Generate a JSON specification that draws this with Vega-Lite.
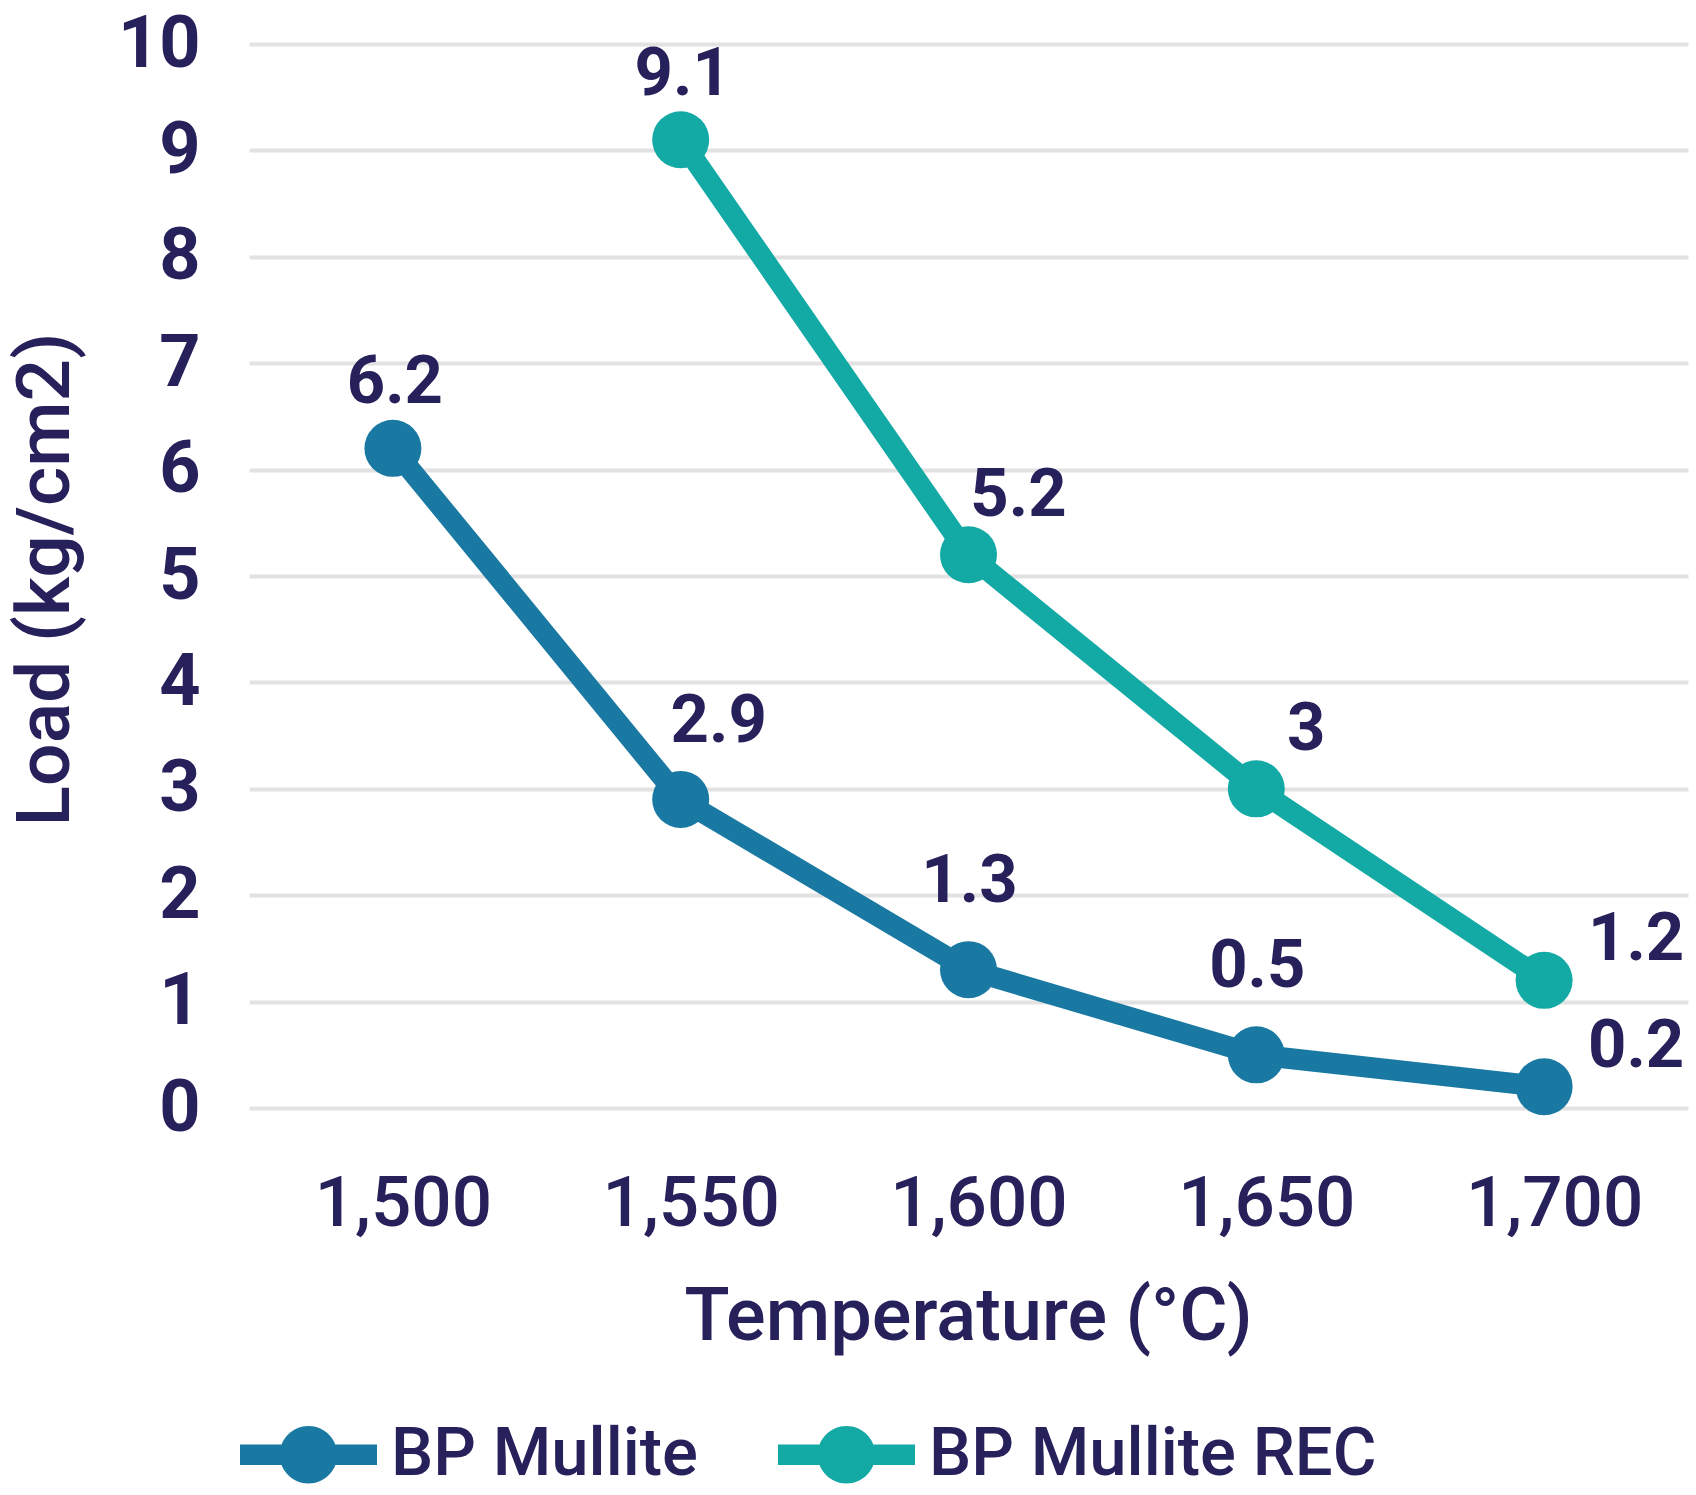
{
  "$schema": "https://vega.github.io/schema/vega-lite/v6.json",
  "width": 1439,
  "height": 1064,
  "autosize": {"type": "none"},
  "padding": {"left": 249, "top": 44, "right": 8, "bottom": 387},
  "background": "white",
  "config": {
    "view": {"stroke": null},
    "font": "Roboto",
    "legend": {"padding": 0}
  },
  "data": {
    "values": [
      {"temp": 1500, "series": "BP Mullite", "load": 6.2},
      {"temp": 1550, "series": "BP Mullite", "load": 2.9},
      {"temp": 1600, "series": "BP Mullite", "load": 1.3},
      {"temp": 1650, "series": "BP Mullite", "load": 0.5},
      {"temp": 1700, "series": "BP Mullite", "load": 0.2},
      {"temp": 1550, "series": "BP Mullite REC", "load": 9.1},
      {"temp": 1600, "series": "BP Mullite REC", "load": 5.2},
      {"temp": 1650, "series": "BP Mullite REC", "load": 3},
      {"temp": 1700, "series": "BP Mullite REC", "load": 1.2}
    ]
  },
  "encoding": {
    "x": {
      "field": "temp",
      "type": "quantitative",
      "scale": {"domain": [1475, 1725], "nice": false, "zero": false},
      "axis": {
        "values": [1500, 1550, 1600, 1650, 1700],
        "format": ",d",
        "grid": false,
        "domain": false,
        "ticks": false,
        "tickSize": 0,
        "labelPadding": 96,
        "labelOffset": 10,
        "labelLimit": 0,
        "labelBaseline": "middle",
        "labelFontSize": 71,
        "labelFontWeight": 500,
        "labelColor": "#27215b",
        "title": "Temperature (°C)",
        "titleFontSize": 74,
        "titleFontWeight": 500,
        "titleColor": "#27215b",
        "titleLimit": 0,
        "titleX": 719,
        "titleY": 209,
        "titleBaseline": "middle",
        "titleAlign": "center"
      }
    },
    "y": {
      "field": "load",
      "type": "quantitative",
      "scale": {"domain": [0, 10], "nice": false},
      "axis": {
        "values": [0, 1, 2, 3, 4, 5, 6, 7, 8, 9, 10],
        "grid": true,
        "gridColor": "#e2e2e2",
        "gridWidth": 4,
        "domain": false,
        "ticks": false,
        "tickSize": 0,
        "labelPadding": 49,
        "labelLimit": 0,
        "labelBaseline": "middle",
        "labelFontSize": 72,
        "labelFontWeight": "bold",
        "labelColor": "#27215b",
        "title": "Load (kg/cm2)",
        "titleFontSize": 75,
        "titleFontWeight": 500,
        "titleColor": "#27215b",
        "titleLimit": 0,
        "titleX": -204,
        "titleY": 535,
        "titleAngle": -90,
        "titleBaseline": "middle",
        "titleAlign": "center"
      }
    },
    "color": {
      "field": "series",
      "type": "nominal",
      "scale": {
        "domain": ["BP Mullite", "BP Mullite REC"],
        "range": ["#1a79a2", "#13a9a5"]
      },
      "legend": {
        "title": null,
        "orient": "none",
        "direction": "horizontal",
        "legendX": -9,
        "legendY": 1342,
        "symbolType": "M-1,-0.15 L1,-0.15 L1,0.15 L-1,0.15 Z M-0.42,0 A0.42,0.42 0 1,1 0.42,0 A0.42,0.42 0 1,1 -0.42,0 Z",
        "symbolSize": 18769,
        "symbolStrokeWidth": 0,
        "labelFontSize": 67,
        "labelFontWeight": 500,
        "labelColor": "#27215b",
        "labelLimit": 0,
        "labelOffset": 14,
        "columnPadding": 80,
        "encode": {
          "symbols": {
            "update": {
              "fill": {"scale": "color", "field": "value"},
              "stroke": {"value": "transparent"},
              "opacity": {"value": 1}
            }
          }
        }
      }
    }
  },
  "layer": [
    {
      "mark": {"type": "line", "strokeWidth": 21, "strokeCap": "round", "strokeJoin": "round"}
    },
    {
      "mark": {"type": "point", "filled": true, "opacity": 1, "size": 3250, "shape": "circle"}
    },
    {
      "transform": [
        {"filter": "(datum.series == 'BP Mullite' && datum.temp == 1500) || (datum.series == 'BP Mullite REC' && datum.temp == 1550)"}
      ],
      "mark": {"type": "text", "dx": 2, "dy": -65, "fontSize": 67, "fontWeight": "bold", "baseline": "middle", "align": "center"},
      "encoding": {"text": {"field": "load", "type": "quantitative"}, "color": {"value": "#27215b"}}
    },
    {
      "transform": [
        {"filter": "datum.series == 'BP Mullite' && (datum.temp == 1600 || datum.temp == 1650)"}
      ],
      "mark": {"type": "text", "dx": 1, "dy": -88, "fontSize": 67, "fontWeight": "bold", "baseline": "middle", "align": "center"},
      "encoding": {"text": {"field": "load", "type": "quantitative"}, "color": {"value": "#27215b"}}
    },
    {
      "transform": [
        {"filter": "datum.series == 'BP Mullite' && datum.temp == 1550"}
      ],
      "mark": {"type": "text", "dx": 38, "dy": -77, "fontSize": 67, "fontWeight": "bold", "baseline": "middle", "align": "center"},
      "encoding": {"text": {"field": "load", "type": "quantitative"}, "color": {"value": "#27215b"}}
    },
    {
      "transform": [
        {"filter": "datum.series == 'BP Mullite REC' && (datum.temp == 1600 || datum.temp == 1650)"}
      ],
      "mark": {"type": "text", "dx": 50, "dy": -59, "fontSize": 67, "fontWeight": "bold", "baseline": "middle", "align": "center"},
      "encoding": {"text": {"field": "load", "type": "quantitative"}, "color": {"value": "#27215b"}}
    },
    {
      "transform": [
        {"filter": "datum.temp == 1700"}
      ],
      "mark": {"type": "text", "dx": 92, "dy": -40, "fontSize": 67, "fontWeight": "bold", "baseline": "middle", "align": "center"},
      "encoding": {"text": {"field": "load", "type": "quantitative"}, "color": {"value": "#27215b"}}
    }
  ]
}
